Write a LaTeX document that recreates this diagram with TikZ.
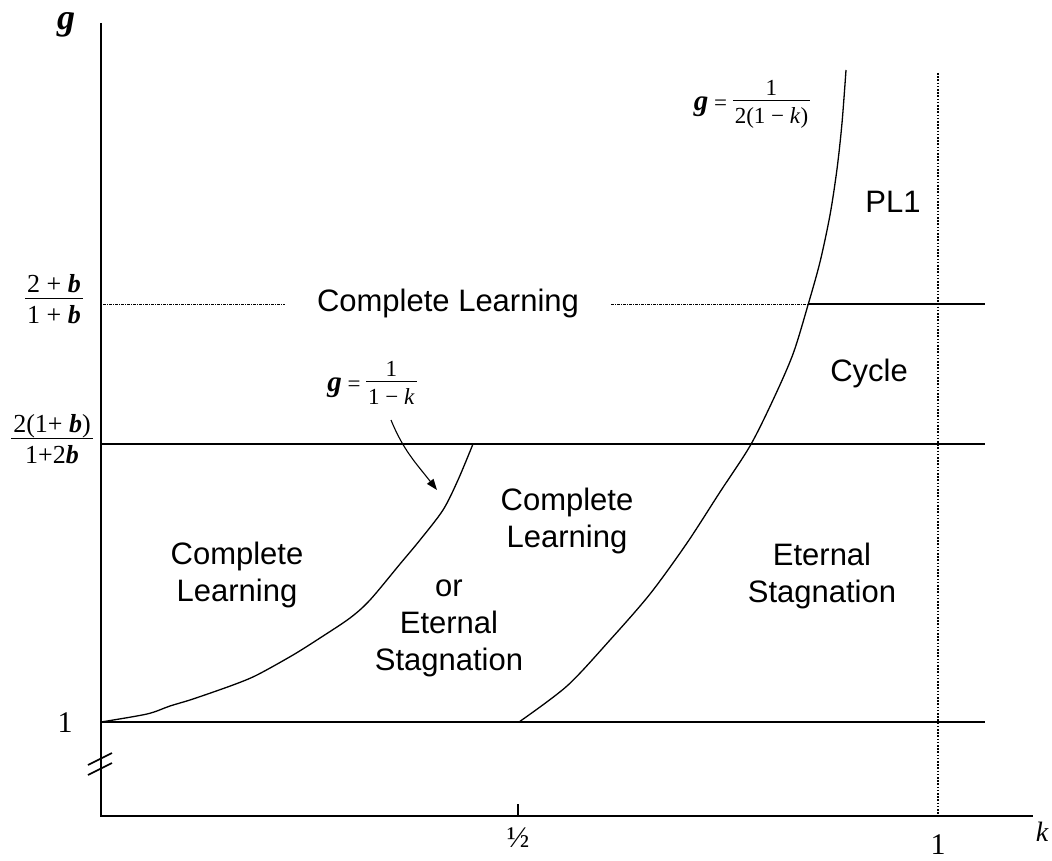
\documentclass[tikz,border=0pt]{standalone}
\usepackage{fontspec}
\setmainfont{Liberation Serif}
\setsansfont{Liberation Sans}
\usepackage{tikz}
\usetikzlibrary{arrows.meta}
\setlength{\arrayrulewidth}{1pt}
\newcommand{\bb}{\textbf{\textit{b}}}
\newcommand{\bg}{\textbf{\textit{g}}}
\newcommand{\stackfrac}[2]{\begin{tabular}{@{\hspace{2pt}}c@{\hspace{2pt}}}#1\\[-3pt]\hline\rule{0pt}{0.95em}#2\end{tabular}}
\tikzset{
  axis-line/.style={line width=1.6pt},
  level-line/.style={line width=1.1pt},
  level-dotted/.style={line width=1pt,dash pattern=on 3pt off 1pt on 1pt off 1pt},
  bound-dotted/.style={line width=1.6pt,dash pattern=on 1.6pt off 1.6pt},
  curve-line/.style={line width=1.3pt},
  region-label/.style={font=\sffamily\fontsize{31}{37}\selectfont,align=center},
  tick-label/.style={font=\fontsize{30}{34}\selectfont},
  frac-label/.style={font=\fontsize{26}{30}\selectfont,inner sep=0pt},
  eq-label/.style={font=\fontsize{23}{26}\selectfont,inner sep=0pt},
  arrow/.style={-{Triangle[length=11pt,width=8pt]},line width=1.1pt},
}

\begin{document}
\begin{tikzpicture}[x=1pt,y=-1pt]
  \useasboundingbox (0,0) rectangle (1052,861);
  % axes
  \coordinate (o) at (101,816);
  \coordinate (ytop) at (101,23);
  \coordinate (xend) at (1033,816);
  \draw[axis-line] (ytop) -- (o) -- (xend);
  \draw[axis-line] (88,765) -- (112,753);
  \draw[axis-line] (88,775) -- (112,763);
  \draw[axis-line] (518,804) -- (518,816);
  \node[font=\fontsize{36}{40}\selectfont,anchor=base,inner sep=0pt] (glab) at (66,30) {\bg};
  \node[tick-label] (one-y) at (65,723) {1};
  \node[tick-label] (half-x) at (518,838) {½};
  \node[tick-label] (one-x) at (938,845) {1};
  \node[font=\itshape\fontsize{28}{32}\selectfont] (klab) at (1042,832) {k};
  \node[frac-label] (lev-hi) at (54,302) {\stackfrac{2 + \bb}{1 + \bb}};
  \node[frac-label] (lev-mid) at (52,442) {\stackfrac{2(1+ \bb)}{1+2\bb}};
  % levels
  \draw[level-line] (101,722) -- (985,722);
  \draw[level-line] (101,444) -- (985,444);
  \draw[level-dotted] (103,304) -- (285,304);
  \draw[level-dotted] (611,304) -- (808,304);
  \draw[level-line] (808,304) -- (985,304);
  \draw[bound-dotted] (938,73) -- (938,816);
  % curves
  \draw[curve-line] plot[smooth,tension=0.5] coordinates {(101,722) (147,714) (170,706)
    (193,699) (233,685) (257,675) (293,655) (320,638) (350,618) (370,600) (400,564)
    (420,540) (443,510) (458,480) (473,444)};
  \draw[curve-line] plot[smooth,tension=0.5] coordinates {(519,722) (567,686) (610,640)
    (650,594) (687,543) (720,492) (750,446) (773,400) (793,354) (808,305) (820,262)
    (830,215) (837,169) (842,123) (846,70)};
  \node[eq-label] (eq-a) at (372,385) {{\fontsize{29}{30}\selectfont\bg} = \stackfrac{1}{1 − \textit{k}}};
  \node[eq-label] (eq-b) at (752,104) {{\fontsize{29}{30}\selectfont\bg} = \stackfrac{1}{2(1 − \textit{k})}};
  \coordinate (arr-from) at (391,420);
  \coordinate (arr-to) at (437,490);
  \draw[arrow] (arr-from) to[out=-68,in=128] (arr-to);
  % regions
  \node[region-label] (cl-top) at (448,303) {Complete Learning};
  \node[region-label] (cl-left) at (237,575) {Complete\\Learning};
  \node[region-label] (cl-mid) at (567,521) {Complete\\Learning};
  \node[region-label] (es-mid) at (449,628) {or\\Eternal\\Stagnation};
  \node[region-label] (es-right) at (822,576) {Eternal\\Stagnation};
  \node[region-label] (cyc) at (869,373) {Cycle};
  \node[region-label] (pl1) at (893,202) {PL1};
\end{tikzpicture}
\end{document}
